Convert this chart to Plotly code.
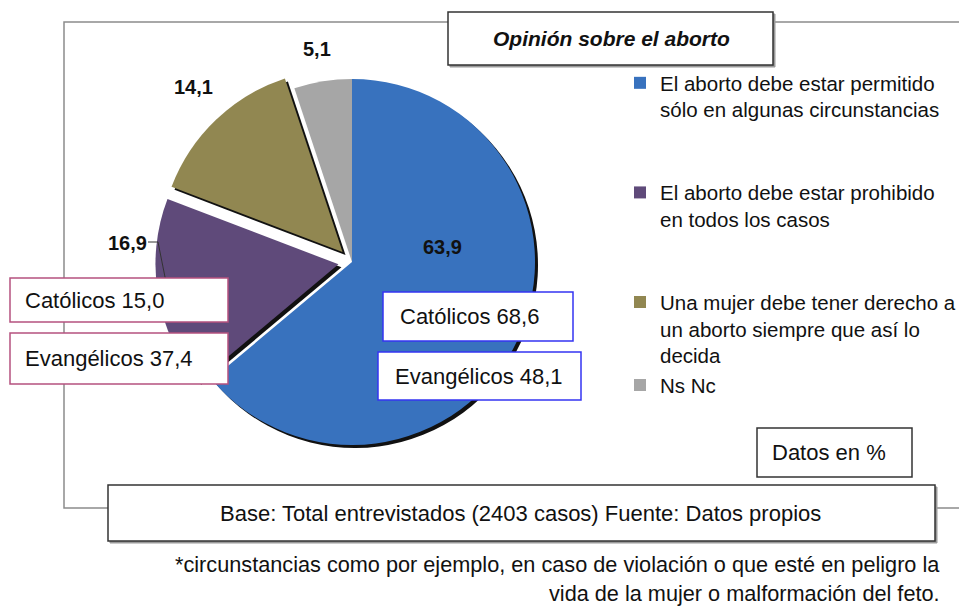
import plotly.graph_objects as go

# page body has an 8px default margin: the figure is placed at (8, 8)
OFF = 8
W, H = 967 - OFF, 608 - OFF

# ---------------- data ----------------
categories = [
    "El aborto debe estar permitido<br>sólo en algunas circunstancias",
    "El aborto debe estar prohibido<br>en todos los casos",
    "Una mujer debe tener derecho a<br>un aborto siempre que así lo<br>decida",
    "Ns Nc",
]
values = [63.9, 16.9, 14.1, 5.1]
colors = ["#3872be", "#5f4a7a", "#918751", "#a6a6a6"]
pulls = [0, 0.075, 0.075, 0]

religions = ["Católicos", "Evangélicos"]
prohibido_by_religion = [15.0, 37.4]
permitido_by_religion = [68.6, 48.1]

title_text = "Opinión sobre el aborto"
base_text = "Base: Total entrevistados (2403 casos) Fuente: Datos propios"
note_lines = [
    "*circunstancias como por ejemplo, en caso de violación o que esté en peligro la",
    "vida de la mujer o malformación del feto.",
]
units_text = "Datos en %"

# ---------------- helpers ----------------
FONT = "Liberation Sans, Arial, sans-serif"


def fx(px):
    return (px - OFF) / W


def fy(py):
    return 1 - (py - OFF) / H


def fmt(v):
    return f"{v:.1f}".replace(".", ",")


# pie geometry (page pixels)
R = 183
CX, CY = 352, 262
half = R * (1 + max(pulls))
SH = 3  # shadow offset


def dom(dx=0, dy=0):
    return dict(x=[fx(CX + dx - half), fx(CX + dx + half)],
                y=[fy(CY + dy + half), fy(CY + dy - half)])


line_counts = [4, 4, 3, 1]
legend_labels = [c + "<br>\u00a0" * (n - c.count("<br>") - 1)
                 for c, n in zip(categories, line_counts)]

fig = go.Figure()

# shadow pie
fig.add_trace(go.Pie(
    labels=legend_labels, values=values, sort=False, direction="clockwise",
    rotation=0, pull=pulls, domain=dom(SH, SH),
    marker=dict(colors=["#111111"] * len(values), line=dict(width=0)),
    textinfo="none", hoverinfo="skip", showlegend=False,
))
# main pie
fig.add_trace(go.Pie(
    labels=legend_labels, values=values, sort=False, direction="clockwise",
    rotation=0, pull=pulls, domain=dom(),
    marker=dict(colors=colors, line=dict(width=0)),
    textinfo="none", hovertemplate="%{value}<extra></extra>",
))

shapes = []
annotations = []


def rect(x0, y0, x1, y1, line_color, lw=1.5, fill="white", layer="above"):
    shapes.append(dict(type="rect", xref="paper", yref="paper",
                       x0=fx(x0), x1=fx(x1), y0=fy(y1), y1=fy(y0),
                       line=dict(color=line_color, width=lw),
                       fillcolor=fill, layer=layer))


def text(x, y, s, size=20, xanchor="center", bold=False, italic=False, color="#111111"):
    annotations.append(dict(x=fx(x), y=fy(y), xref="paper", yref="paper",
                            text=s, showarrow=False, xanchor=xanchor, yanchor="middle",
                            font=dict(family=FONT, size=size, color=color,
                                      weight="bold" if bold else "normal",
                                      style="italic" if italic else "normal")))


# outer frame
rect(64, 22, 965, 508, "#8c8c8c", lw=1.5, fill="rgba(0,0,0,0)", layer="below")

# title box
rect(450, 14, 775, 67, "#9a9a9a", lw=1, fill="#9a9a9a")
rect(448, 12, 773, 65, "#333333", lw=1.5)
text(611, 38, title_text, size=21, bold=True, italic=True)

# units box
rect(757, 428, 912, 477, "#333333", lw=1.5)
text(829, 452, units_text, size=22)

# base box
rect(110, 487, 937, 543, "#9a9a9a", lw=1, fill="#9a9a9a")
rect(108, 485, 935, 541, "#333333", lw=1.5)
text(520, 513, base_text, size=22)

# footnote
text(942, 564, note_lines[0], size=21.7, xanchor="right")
text(942, 593, note_lines[1], size=21.7, xanchor="right")

# value labels
label_pos = [(442, 247), (127, 243), (193, 87), (317, 49)]
for v, (lx, ly) in zip(values, label_pos):
    text(lx, ly, fmt(v), size=20, bold=True)

# leader line for the purple slice label
shapes.append(dict(type="path", xref="paper", yref="paper",
                   path=f"M {fx(148)} {fy(242)} L {fx(158)} {fy(242)} L {fx(166)} {fy(282)}",
                   line=dict(color="#333333", width=1), layer="above"))

# religion boxes: prohibido (purple side)
pink = "#b5527f"
left_boxes = [(10, 278, 228, 322), (10, 333, 228, 384)]
for name, v, (x0, y0, x1, y1) in zip(religions, prohibido_by_religion, left_boxes):
    rect(x0, y0, x1, y1, pink, lw=1.5)
    text(x0 + 13, (y0 + y1) / 2, f"{name} {fmt(v)}", size=22, xanchor="left")

# religion boxes: permitido (blue side)
blue = "#3434f2"
right_boxes = [(383, 292, 573, 341), (378, 352, 581, 400)]
for name, v, (x0, y0, x1, y1) in zip(religions, permitido_by_religion, right_boxes):
    rect(x0, y0, x1, y1, blue, lw=1.5)
    text(x0 + 15, (y0 + y1) / 2, f"{name} {fmt(v)}", size=22, xanchor="left")

fig.update_layout(
    width=W, height=H,
    margin=dict(l=0, r=0, t=0, b=0),
    paper_bgcolor="white", plot_bgcolor="white",
    font=dict(family=FONT, color="#111111"),
    shapes=shapes, annotations=annotations,
    showlegend=True,
    legend=dict(x=fx(620), y=fy(63), xanchor="left", yanchor="top",
                font=dict(family=FONT, size=20.5, color="#111111"),
                valign="top", bgcolor="rgba(0,0,0,0)", borderwidth=0),
)

fig.write_html("out.html")
